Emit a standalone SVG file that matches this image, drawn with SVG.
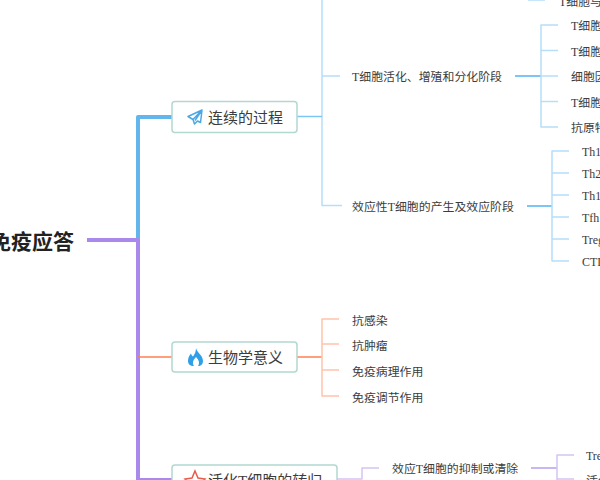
<svg xmlns="http://www.w3.org/2000/svg" width="600" height="480" viewBox="0 0 600 480">
<style>
text{font-family:"Liberation Serif","Noto Sans CJK SC",sans-serif;fill:#3c3c3c}
.t{font-family:"Noto Sans CJK SC","Liberation Sans",sans-serif}
.s{font-size:11.900px}
.m{font-size:15px}
.root{font-size:21px;font-weight:700;fill:#222}
.box{fill:#fff;stroke:#b2d8d0;stroke-width:1.5}
.l{fill:none;stroke-linejoin:round}
.blue{stroke:#b5defa;stroke-width:1.5}
.bluet{stroke:#7cc6f5;stroke-width:2}
.or{stroke:#ffc4ac;stroke-width:1.5}
.pu{stroke:#d3c3f5;stroke-width:1.5}
</style>
<g id="connectors">
<path class="l" d="M138 240V117H172" stroke="#62b6ec" stroke-width="4"/>
<path class="l" d="M87 240H138V480" stroke="#a98aec" stroke-width="4"/>
<path class="l" d="M138 357H172" stroke="#ff7f50" stroke-width="1.500"/>
<path class="l" d="M138 479H172" stroke="#a98aec" stroke-width="2"/>
<path class="l blue" d="M322 0V205.500H342M322 76H340"/>
<path class="l" d="M297 116.500H322" stroke="#7cc6f5" stroke-width="1.500"/>
<path class="l bluet" d="M515 76H541"/>
<path class="l blue" d="M558 25H541V127H558M541 50.500H558M541 76H558M541 101.500H558M528 0H545"/>
<path class="l bluet" d="M527 206H552"/>
<path class="l blue" d="M569 151H552V261H569M552 173H569M552 195H569M552 217H569M552 239H569"/>
<path class="l" d="M297 357H322" stroke="#ff7f50" stroke-width="1.500"/>
<path class="l or" d="M339 319H322V396H339M322 344H339M322 370H339"/>
<path class="l pu" d="M337 479H362V468H379"/>
<path class="l" d="M531 468H557" stroke="#b79ff0" stroke-width="1.500"/>
<path class="l pu" d="M574 455H557V480M557 479H574"/>
</g>
<g id="root"><text class="t root" x="-10" y="249">免疫应答</text></g>
<g id="n1"><rect class="box" x="172" y="101.500" width="125" height="31" rx="3"/>
<path d="M202 110L188 116.500L193 119.500L194.500 124L197.500 121L200.500 122.500ZM193 119.500L202 110L195 120.500" fill="none" stroke="#4aa8e6" stroke-width="1.500" stroke-linejoin="round"/>
<text class="t m" x="208" y="122.500">连续的过程</text></g>
<g id="n2"><rect class="box" x="172" y="342" width="125" height="30" rx="3"/>
<path fill-rule="evenodd" d="M196 348C197 353 203 355 203 361C203 364 201 366 198 366C200 363 199 360 196 357C193 360 192 363 194 366C190 366 188 364 188 361C188 358 189 356 191 353.500C191.500 355 192 356 193 356.500C195 354 196 351 196 348Z" fill="#2f9fe8"/>
<text class="t m" x="208" y="363">生物学意义</text></g>
<g id="n3"><rect class="box" x="172" y="465" width="165" height="30" rx="3"/>
<path d="M195 471L198 478L205 479L200 484L201 491L195 488L189 491L190 484L185 479L192 478Z" fill="none" stroke="#ea5b4c" stroke-width="1.500"/>
<text class="t m" x="208" y="486"><tspan>活化</tspan><tspan font-family="Liberation Serif">T</tspan><tspan>细胞的转归</tspan></text></g>
<g id="l1"><text class="s" x="352" y="81">T<tspan class="t">细胞活化、增殖和分化阶段</tspan></text></g>
<g id="l2"><text class="t s" x="352" y="211">效应性<tspan font-family="Liberation Serif">T</tspan>细胞的产生及效应阶段</text></g>
<g id="l0"><text class="s" x="559" y="6">T<tspan class="t">细胞与</tspan></text></g>
<g id="a1"><text class="s" x="571" y="30">T<tspan class="t">细胞</tspan></text></g>
<g id="a2"><text class="s" x="571" y="55.500">T<tspan class="t">细胞</tspan></text></g>
<g id="a3"><text class="t s" x="571" y="81">细胞因</text></g>
<g id="a4"><text class="s" x="571" y="106.500">T<tspan class="t">细胞</tspan></text></g>
<g id="a5"><text class="t s" x="571" y="132">抗原特</text></g>
<g id="b1"><text class="s" x="582" y="156">Th1</text></g>
<g id="b2"><text class="s" x="582" y="178">Th2</text></g>
<g id="b3"><text class="s" x="582" y="200">Th17</text></g>
<g id="b4"><text class="s" x="582" y="222">Tfh</text></g>
<g id="b5"><text class="s" x="582" y="244">Treg</text></g>
<g id="b6"><text class="s" x="582" y="266">CTL</text></g>
<g id="c1"><text class="t s" x="352" y="324.500">抗感染</text></g>
<g id="c2"><text class="t s" x="352" y="349.500">抗肿瘤</text></g>
<g id="c3"><text class="t s" x="352" y="375.500">免疫病理作用</text></g>
<g id="c4"><text class="t s" x="352" y="401.500">免疫调节作用</text></g>
<g id="d1"><text class="t s" x="392" y="473">效应<tspan font-family="Liberation Serif">T</tspan>细胞的抑制或清除</text></g>
<g id="d2"><text class="s" x="586" y="460">Treg</text></g>
<g id="d3"><text class="t s" x="586" y="485">活化</text></g>
</svg>
